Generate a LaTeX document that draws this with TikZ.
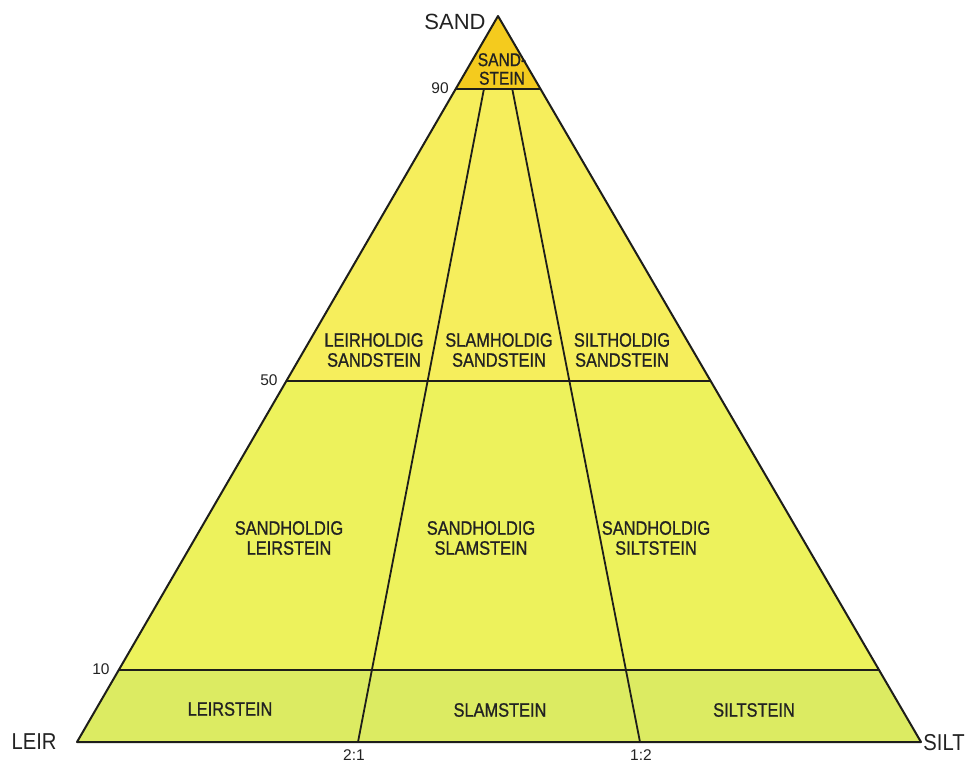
\documentclass[tikz,border=0pt]{standalone}
\usepackage{fontspec}
\setmainfont{Liberation Sans}
\newfontfamily\narrowfont[FakeStretch=0.88]{Liberation Sans}
\newfontfamily\labelfont[FakeStretch=0.84,FakeBold=0.9]{Liberation Sans}
\usetikzlibrary{calc}

\definecolor{inkline}{HTML}{1E1E1A}
\definecolor{inktext}{HTML}{222222}
\definecolor{fillstone}{HTML}{F4CB1E}
\definecolor{fillupper}{HTML}{F6EE5C}
\definecolor{fillmiddle}{HTML}{EDF25C}
\definecolor{filllower}{HTML}{DCEB62}

\tikzset{
  border/.style={draw=inkline, line width=2pt, line join=round},
  divider/.style={draw=inkline, line width=1.8pt},
  region/.style={font=\labelfont\fontsize{19.5}{20}\selectfont, text=inktext, align=center, inner sep=0pt},
  corner/.style={font=\fontsize{22}{24}\selectfont, text=inktext, inner sep=0pt},
  cornernarrow/.style={font=\narrowfont\fontsize{23}{24}\selectfont, text=inktext, inner sep=0pt},
  tick/.style={font=\fontsize{15.5}{16}\selectfont, text=inktext, inner sep=0pt},
}

\begin{document}
\begin{tikzpicture}[x=1pt, y=-1pt]
  \useasboundingbox (0,0) rectangle (970,764);

  % corners of the triangle
  \coordinate (A) at (498,16);
  \coordinate (L) at (77,742);
  \coordinate (R) at (921,742);
  % ratio points on the base
  \coordinate (D1) at (358,742);
  \coordinate (D2) at (640,742);

  % levels of sand content on the two sides
  \coordinate (L90) at ($(A)!0.101!(L)$);
  \coordinate (R90) at ($(A)!0.101!(R)$);
  \coordinate (L50) at ($(A)!0.503!(L)$);
  \coordinate (R50) at ($(A)!0.503!(R)$);
  \coordinate (L10) at ($(A)!0.901!(L)$);
  \coordinate (R10) at ($(A)!0.901!(R)$);
  % divider lines start on the 90 level
  \coordinate (E1) at ($(A)!0.101!(D1)$);
  \coordinate (E2) at ($(A)!0.101!(D2)$);

  % coloured bands
  \fill[fillstone] (A) -- (L90) -- (R90) -- cycle;
  \fill[fillupper] (L90) -- (L50) -- (R50) -- (R90) -- cycle;
  \fill[fillmiddle] (L50) -- (L10) -- (R10) -- (R50) -- cycle;
  \fill[filllower] (L10) -- (L) -- (R) -- (R10) -- cycle;

  % level lines
  \draw[divider] (L90) -- (R90);
  \draw[divider] (L50) -- (R50);
  \draw[divider] (L10) -- (R10);
  % ratio lines
  \draw[divider] (E1) -- (D1);
  \draw[divider] (E2) -- (D2);

  % outline
  \draw[border] (A) -- (L) -- (R) -- cycle;

  % corner labels
  \node[corner] (sand) at (455,22) {SAND};
  \node[cornernarrow] (leir) at (34,742) {LEIR};
  \node[cornernarrow] (silt) at (944,743) {SILT};

  % scale labels
  \node[tick] (t90) at (440,88) {90};
  \node[tick] (t50) at (269,380) {50};
  \node[tick] (t10) at (101,669) {10};
  \node[tick] (r21) at (354,755) {2:1};
  \node[tick] (r12) at (641,755) {1:2};

  % region labels
  \node[region, font=\labelfont\fontsize{18.5}{18.5}\selectfont] (sandstein) at (502,69) {SAND-\\STEIN};
  \node[region] (leirsand) at (374,350) {LEIRHOLDIG\\SANDSTEIN};
  \node[region] (slamsand) at (499,350) {SLAMHOLDIG\\SANDSTEIN};
  \node[region] (siltsand) at (622,350) {SILTHOLDIG\\SANDSTEIN};
  \node[region] (sandleir) at (289,538) {SANDHOLDIG\\LEIRSTEIN};
  \node[region] (sandslam) at (481,538) {SANDHOLDIG\\SLAMSTEIN};
  \node[region] (sandsilt) at (656,538) {SANDHOLDIG\\SILTSTEIN};
  \node[region] (leirstein) at (230,709) {LEIRSTEIN};
  \node[region] (slamstein) at (500,710) {SLAMSTEIN};
  \node[region] (siltstein) at (754,710) {SILTSTEIN};
\end{tikzpicture}
\end{document}
